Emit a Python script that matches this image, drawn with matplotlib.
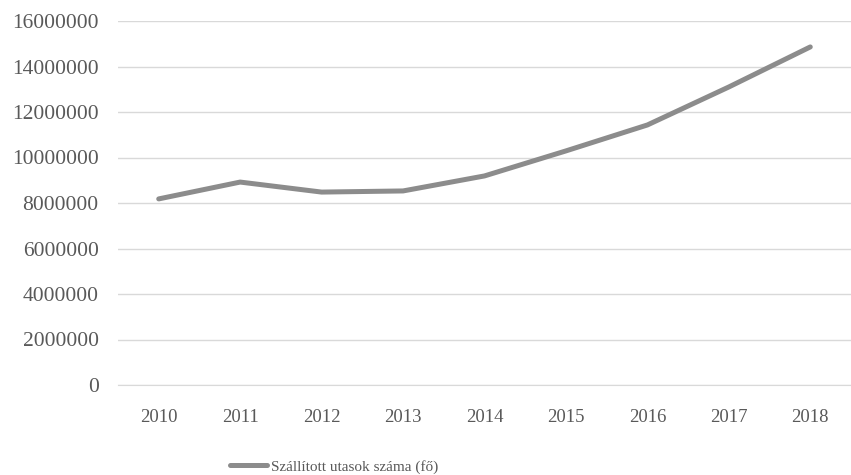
import matplotlib.pyplot as plt

years = ['2010', '2011', '2012', '2013', '2014', '2015', '2016', '2017', '2018']
passengers = [8180000, 8920000, 8480000, 8530000, 9190000, 10290000, 11430000, 13100000, 14860000]
yticks = [0, 2000000, 4000000, 6000000, 8000000, 10000000, 12000000, 14000000, 16000000]
series_label = 'Szállított utasok száma (fő)'

plt.rcParams['font.family'] = ['Liberation Serif', 'DejaVu Serif']
text_color = '#595959'

W, H = 851, 475
fig = plt.figure(figsize=(W / 100, H / 100), dpi=100)
ax = fig.add_axes([118 / W, (H - 385) / H, 733 / W, 364 / H])

x = range(len(years))
line, = ax.plot(x, passengers, color='#8c8c8c', linewidth=3.6,
                solid_capstyle='round', solid_joinstyle='round', zorder=3)

ax.set_xlim(-0.5, len(years) - 0.5)
ax.set_ylim(0, 16000000)
ax.set_yticks(yticks)
ax.set_yticklabels([str(v) for v in yticks])
ax.set_xticks(list(x))
ax.set_xticklabels(years)

ax.grid(axis='y', color='#d9d9d9', linewidth=1.0)
ax.set_axisbelow(True)
for side in ['top', 'right', 'left']:
    ax.spines[side].set_visible(False)
ax.spines['bottom'].set_color('#d9d9d9')
ax.tick_params(axis='both', length=0, colors=text_color)
ax.tick_params(axis='y', labelsize=15.5, pad=14)
ax.tick_params(axis='x', labelsize=13.5, pad=17)

fig.legend([line], [series_label], loc='center', bbox_to_anchor=(334 / W, (H - 467) / H),
           frameon=False, fontsize=11, labelcolor=text_color,
           handlelength=2.4, handletextpad=0.25)

fig.savefig('out.png', dpi=100)
